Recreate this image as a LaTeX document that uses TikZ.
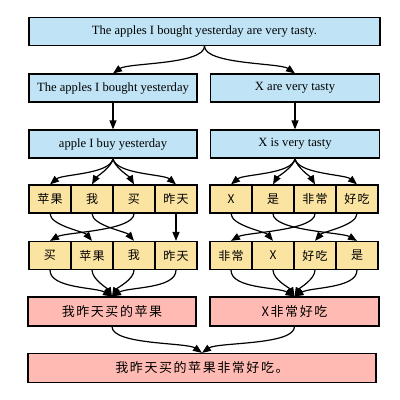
\documentclass[tikz,border=0pt]{standalone}
\usepackage{fontspec}
\setmainfont{Liberation Serif}
\newfontfamily\cjk[LetterSpace=12]{Noto Sans CJK SC}
\usetikzlibrary{arrows.meta}

\definecolor{boxblue}{HTML}{C0E4F6}
\definecolor{cellyellow}{HTML}{FBE3A2}
\definecolor{boxpink}{HTML}{FFBBB3}

\tikzset{
  engbox/.style={draw, line width=1.2pt, fill=boxblue, minimum height=28pt,
    inner sep=0pt, font=\fontsize{12.6}{14}\selectfont},
  wordcell/.style={draw, line width=1.2pt, fill=cellyellow, minimum height=28pt,
    minimum width=42pt, inner sep=0pt, font=\cjk\fontsize{12}{14}\selectfont},
  zhbox/.style={draw, line width=1.2pt, fill=boxpink, minimum height=29pt,
    inner sep=0pt, font=\cjk\fontsize{13}{15}\selectfont},
  arr/.style={-{Triangle[length=9pt,width=7pt]}, line width=1.2pt},
}

\begin{document}
\begin{tikzpicture}[x=1pt, y=-1pt]
    \useasboundingbox (0,0) rectangle (400,400);
    % ---------------------------------------------
    % english sentence and its two halves
    \node[engbox, minimum width=351pt] (sent) at (204.5, 31.5) {The apples I bought yesterday are very tasty.};
    \node[engbox, minimum width=168pt] (subj) at (113, 88) {The apples I bought yesterday};
    \node[engbox, minimum width=169pt] (pred) at (295, 88) {X are very tasty};
    \node[engbox, minimum width=168pt] (subjlem) at (113, 144) {apple I buy yesterday};
    \node[engbox, minimum width=169pt] (predlem) at (295, 144) {X is very tasty};

    \draw[arr] (sent.south) to[out=-90, in=35, looseness=0.5] (subj.north);
    \draw[arr] (sent.south) to[out=-90, in=145, looseness=0.5] (pred.north);
    \draw[arr] (subj) -- (subjlem);
    \draw[arr] (pred) -- (predlem);

    % ---------------------------------------------
    % words in english order
    \node[wordcell] (wa1) at (50, 199) {苹果};
    \node[wordcell] (wa2) at (92, 199) {我};
    \node[wordcell] (wa3) at (134, 199) {买};
    \node[wordcell] (wa4) at (176, 199) {昨天};
    \node[wordcell] (wb1) at (231, 199) {X};
    \node[wordcell] (wb2) at (273, 199) {是};
    \node[wordcell] (wb3) at (315, 199) {非常};
    \node[wordcell] (wb4) at (357, 199) {好吃};

    \draw[arr] (subjlem.south) to[out=-100, in=40, looseness=0.6] (wa1.north);
    \draw[arr] (subjlem.south) to[out=-95, in=60, looseness=0.6] (wa2.north);
    \draw[arr] (subjlem.south) to[out=-85, in=120, looseness=0.6] (wa3.north);
    \draw[arr] (subjlem.south) to[out=-80, in=140, looseness=0.6] (wa4.north);
    \draw[arr] (predlem.south) to[out=-100, in=40, looseness=0.6] (wb1.north);
    \draw[arr] (predlem.south) to[out=-95, in=60, looseness=0.6] (wb2.north);
    \draw[arr] (predlem.south) to[out=-85, in=120, looseness=0.6] (wb3.north);
    \draw[arr] (predlem.south) to[out=-80, in=140, looseness=0.6] (wb4.north);

    % ---------------------------------------------
    % words in chinese order
    \node[wordcell] (za1) at (50, 255.5) {买};
    \node[wordcell] (za2) at (92, 255.5) {苹果};
    \node[wordcell] (za3) at (134, 255.5) {我};
    \node[wordcell] (za4) at (176, 255.5) {昨天};
    \node[wordcell] (zb1) at (231, 255.5) {非常};
    \node[wordcell] (zb2) at (273, 255.5) {X};
    \node[wordcell] (zb3) at (315, 255.5) {好吃};
    \node[wordcell] (zb4) at (357, 255.5) {是};

    % reorder the words
    \draw[arr] (wa1.south) to[out=-90, in=130, looseness=0.6] (za2.north);
    \draw[arr] (wa2.south) to[out=-90, in=130, looseness=0.6] (za3.north);
    \draw[arr] (wa3.south) to[out=-90, in=30, looseness=0.5] (za1.north);
    \draw[arr] (wa4) -- (za4);
    \draw[arr] (wb1.south) to[out=-90, in=130, looseness=0.6] (zb2.north);
    \draw[arr] (wb2.south) to[out=-90, in=150, looseness=0.5] (zb4.north);
    \draw[arr] (wb3.south) to[out=-90, in=30, looseness=0.5] (zb1.north);
    \draw[arr] (wb4.south) to[out=-90, in=50, looseness=0.6] (zb3.north);

    % ---------------------------------------------
    % chinese halves and the whole sentence
    \node[zhbox, minimum width=168pt] (zhsubj) at (112, 311.5) {我昨天买的苹果};
    \node[zhbox, minimum width=169pt] (zhpred) at (294.5, 311.5) {X非常好吃};
    \node[zhbox, minimum width=348pt] (zhsent) at (202, 368) {我昨天买的苹果非常好吃。};

    \draw[arr] (za1.south) to[out=-90, in=150, looseness=0.7] (zhsubj.north);
    \draw[arr] (za2.south) to[out=-90, in=120, looseness=0.7] (zhsubj.north);
    \draw[arr] (za3.south) to[out=-90, in=60, looseness=0.7] (zhsubj.north);
    \draw[arr] (za4.south) to[out=-90, in=30, looseness=0.7] (zhsubj.north);
    \draw[arr] (zb1.south) to[out=-90, in=150, looseness=0.7] (zhpred.north);
    \draw[arr] (zb2.south) to[out=-90, in=120, looseness=0.7] (zhpred.north);
    \draw[arr] (zb3.south) to[out=-90, in=60, looseness=0.7] (zhpred.north);
    \draw[arr] (zb4.south) to[out=-90, in=30, looseness=0.7] (zhpred.north);

    \draw[arr] (zhsubj.south) to[out=-90, in=145, looseness=0.5] (zhsent.north);
    \draw[arr] (zhpred.south) to[out=-90, in=35, looseness=0.5] (zhsent.north);

  \end{tikzpicture}
\end{document}
